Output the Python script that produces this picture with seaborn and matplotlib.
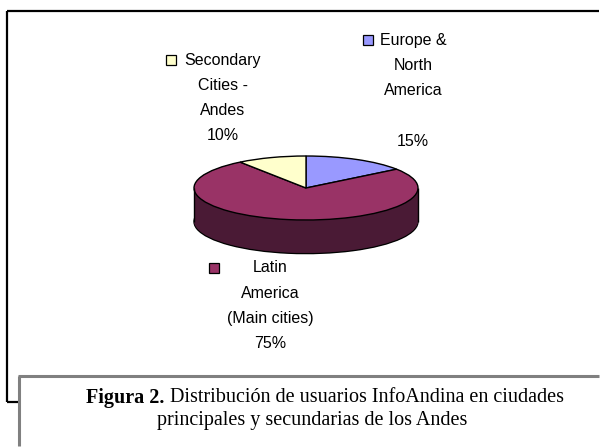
import matplotlib
matplotlib.use("Agg")
import matplotlib.pyplot as plt
import matplotlib.patches as mpatches
from matplotlib.lines import Line2D
import seaborn as sns

# ---- data ----
regions = ["Europe &\nNorth\nAmerica\n\n15%",
           "Latin\nAmerica\n(Main cities)\n75%",
           "Secondary\nCities -\nAndes\n10%"]
shares = [15, 75, 10]
top_colors = ["#9999FF", "#993366", "#FFFFCC"]
side_colors = ["#4C4C80", "#4A1A35", "#808066"]

caption_bold = "Figura 2."
caption_rest = " Distribución de usuarios InfoAndina en ciudades"
caption_line2 = "principales y secundarias de los Andes"

sns.set_theme(style="white")
plt.rcParams["font.family"] = ["Liberation Sans", "DejaVu Sans"]

W, H = 600, 447
fig = plt.figure(figsize=(W / 100, H / 100), dpi=100)
fig.patch.set_linewidth(0)


def fx(x):
    return x / W


def fy(y):
    return 1 - y / H


def frame_line(xs, ys, color, lw, z=4):
    fig.add_artist(Line2D([fx(v) for v in xs], [fy(v) for v in ys],
                          color=color, lw=lw, zorder=z,
                          solid_capstyle="butt"))


# outer chart frame (right side runs off the picture)
frame_line((7, 7), (11, 402), "black", 1.6)
frame_line((7, 599), (11, 11), "black", 1.6)
frame_line((7, 19), (402, 402), "black", 1.6)

# pie axes: 1 unit in x = 112 px, 1 unit in y = 32 px
cx, cy, ra, rb, depth = 306, 188, 112, 32, 1.05
y_top, y_bot = 1.15, -1 - depth - 0.15
ax_h_px = (y_top - y_bot) * rb
ax_w_px = 2.3 * ra
ax = fig.add_axes([fx(cx - ax_w_px / 2), fy(cy + (-y_bot) * rb),
                   fx(ax_w_px), ax_h_px / H])

# side of the 3D pie: stacked copies of the wedges
n_layers = 40
for i in range(n_layers + 1):
    off = -depth * (1 - i / n_layers)
    ax.pie(shares, colors=side_colors, startangle=90, counterclock=False,
           center=(0, off), radius=1,
           wedgeprops=dict(edgecolor="black" if i == 0 else "none",
                           linewidth=1.0 if i == 0 else 0))
ax.vlines([-1, 1], -depth, 0, color="black", lw=1.0)
# top face
ax.pie(shares, colors=top_colors, startangle=90, counterclock=False,
       center=(0, 0), radius=1,
       wedgeprops=dict(edgecolor="black", linewidth=1.0))
ax.set_aspect("auto")
ax.set_xlim(-1.15, 1.15)
ax.set_ylim(y_bot, y_top)
ax.axis("off")

# labels with legend keys
label_pos = [(413, 40, 373), (270, 268, 219), (223, 60, 176)]
step = 25.3
for text, color, (lx, ly, kx) in zip(regions, top_colors, label_pos):
    for j, line in enumerate(text.split("\n")):
        if line:
            fig.text(fx(lx), fy(ly + j * step), line, ha="center", va="center",
                     fontsize=11.5, color="black")
    fig.add_artist(mpatches.Rectangle((fx(kx - 10), fy(ly + 5)), fx(10), 10 / H,
                                      facecolor=color, edgecolor="black",
                                      lw=0.9))

# caption box (runs off the right and bottom edges)
fig.add_artist(mpatches.Rectangle((fx(19), 0), 1 - fx(19), fy(376),
                                  facecolor="white", edgecolor="none",
                                  zorder=5))
frame_line((18, 599), (376, 376), "#808080", 2.2, z=6)
frame_line((19, 19), (376, 446), "#808080", 2.2, z=6)

serif = ["Liberation Serif", "DejaVu Serif"]
fs_cap = 14.5
t_bold = fig.text(0, fy(398), caption_bold, family=serif, fontweight="bold",
                  fontsize=fs_cap, va="center", ha="left", color="black",
                  zorder=7)
t_rest = fig.text(0, fy(398), caption_rest, family=serif, fontsize=fs_cap,
                  va="center", ha="left", color="black", zorder=7)
fig.text(fx(312), fy(420), caption_line2, family=serif, fontsize=fs_cap,
         va="center", ha="center", color="black", zorder=7)

r = fig.canvas.get_renderer()
wb = t_bold.get_window_extent(r).width
wr = t_rest.get_window_extent(r).width
start = 325 - (wb + wr) / 2
t_bold.set_x(fx(start))
t_rest.set_x(fx(start + wb))

fig.savefig("out.png", dpi=100)
